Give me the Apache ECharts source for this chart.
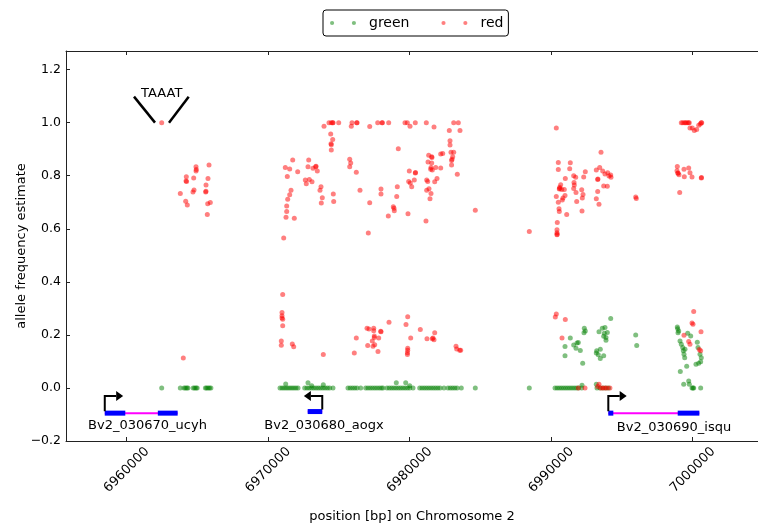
<!DOCTYPE html>
<html>
<head>
<meta charset="utf-8">
<script src="https://cdn.jsdelivr.net/npm/echarts@6/dist/echarts.min.js"></script>
<style>
html,body{margin:0;padding:0;background:#fff;}
#chart{width:758px;height:526px;}
</style>
</head>
<body>
<div id="chart"></div>
<script>
// ---------- data ----------
const xTicks = [6960000, 6970000, 6980000, 6990000, 7000000];
const yTicks = [-0.2, 0.0, 0.2, 0.4, 0.6, 0.8, 1.0, 1.2];

// green: positions whose estimate is 0
const greenZeroX = [
  6962473, 6963788, 6964050, 6964150, 6964250, 6964330, 6964700, 6964800, 6964900, 6964980,
  6965560, 6965650, 6965750, 6965850, 6965950,
  6970834, 6970980, 6971120, 6971260, 6971400, 6971540, 6971680, 6971820, 6971960, 6972106,
  6972579, 6972740, 6972900, 6973060, 6973220, 6973380, 6973540, 6973700, 6973860, 6974020,
  6974180, 6974340, 6974579, 6975638, 6975800, 6975960, 6976120, 6976280, 6976536, 6976890,
  6977050, 6977210, 6977370, 6977530, 6977690, 6977850, 6978000, 6978113, 6978395, 6978560,
  6978720, 6978880, 6979040, 6979200, 6979360, 6979520, 6979680, 6979840, 6980000, 6980233,
  6980706, 6980870, 6981030, 6981190, 6981350, 6981510, 6981670, 6981830, 6981990, 6982150,
  6982423, 6982706, 6982870, 6983030, 6983190, 6983350, 6983646, 6984636,
  6988452, 6990268, 6990420, 6990570, 6990720, 6990870, 6991020, 6991170, 6991320, 6991470,
  6991620, 6991770, 6991920, 6992155, 6993236, 6993450, 6993650, 6993850, 6994050,
  6999950, 7000020, 7000070, 7000563
];
// green: other points [position, estimate]
const greenPts = [
  [6971236,0.015],[6972812,0.02],[6973074,0.008],[6973894,0.012],[6979052,0.02],[6979717,0.02],[6980000,0.008],
  [6992176,0.01],[6993187,0.014],
  [6994204,0.262],[6992339,0.225],[6992409,0.215],[6992317,0.208],[6993377,0.212],[6993610,0.225],
  [6993801,0.228],[6993964,0.209],[6993752,0.206],[6993872,0.19],[6993872,0.18],[6993709,0.195],
  [6991349,0.188],[6991915,0.171],[6991823,0.169],[6991589,0.162],[6991752,0.15],[6992056,0.141],
  [6990975,0.156],[6990975,0.121],[6993214,0.14],[6993187,0.132],[6993328,0.125],[6993469,0.146],
  [6993709,0.121],[6993469,0.111],[6992225,0.093],[6995971,0.2],[6996042,0.16],
  [6998911,0.23],[6998939,0.223],[6999010,0.215],[6998960,0.208],[6999646,0.206],[6999858,0.196],
  [6999102,0.177],[6999194,0.165],[6999292,0.152],[6999336,0.14],[6999384,0.127],[6999434,0.114],
  [6999575,0.082],[6999123,0.062],[7000324,0.172],[7000374,0.152],[7000515,0.127],[7000607,0.114],
  [7000563,0.099],[7000423,0.093],[7000232,0.089],[6999455,0.146],
  [6999363,0.014],[6999716,0.026],[6999759,0.014]
];

// red points [position, estimate], cluster by cluster
const redCluster1 = [
  [6962473,1.0],[6965816,0.840],[6964897,0.834],[6964919,0.823],[6964900,0.818],[6964212,0.796],
  [6964735,0.791],[6965745,0.789],[6964191,0.780],[6964230,0.778],[6965604,0.765],[6964756,0.746],
  [6964685,0.739],[6965583,0.739],[6965600,0.741],[6963788,0.733],[6964170,0.704],[6964283,0.690],
  [6965724,0.694],[6965908,0.699],[6965696,0.654],[6964000,0.113]
];
const redCluster2 = [
  [6973943,0.986],[6974296,1.0],[6974459,1.0],[6974558,1.0],[6974580,1.0],[6974982,1.0],[6975922,1.0],
  [6975872,0.986],[6976254,1.0],[6976280,1.0],[6977173,0.985],[6974417,0.957],[6974558,0.936],
  [6974438,0.92],[6974460,0.917],[6974459,0.897],[6971731,0.859],[6972862,0.859],[6975759,0.862],
  [6975830,0.848],[6975759,0.834],[6971208,0.831],[6971519,0.825],[6972084,0.815],[6972812,0.834],
  [6973166,0.828],[6973356,0.834],[6973380,0.836],[6973470,0.818],[6976226,0.813],[6971350,0.797],
  [6972622,0.784],[6972904,0.786],[6973095,0.777],[6972692,0.77],[6973731,0.758],[6973660,0.745],
  [6971611,0.745],[6971519,0.728],[6971378,0.711],[6974600,0.731],[6976487,0.745],[6973823,0.717],
  [6973752,0.697],[6974628,0.703],[6977173,0.698],[6971307,0.686],[6971307,0.665],[6971258,0.643],
  [6971844,0.640],[6971095,0.565],[6977074,0.584]
];
const redCluster3 = [
  [6977738,1.0],[6978042,1.0],[6978070,1.0],[6978515,1.0],[6979667,1.0],[6979830,1.0],[6980021,0.986],
  [6980395,1.0],[6981173,1.0],[6981717,0.984],[6983109,1.0],[6983435,1.0],[6982798,0.97],[6983554,0.97],
  [6982848,0.932],[6982848,0.916],[6979194,0.902],[6982918,0.888],[6983109,0.888],[6982332,0.884],
  [6982190,0.882],[6981342,0.877],[6981554,0.871],[6981570,0.869],[6983038,0.871],[6982989,0.862],
  [6982960,0.857],[6981293,0.852],[6981554,0.848],[6982960,0.84],[6981505,0.831],[6981483,0.824],
  [6981597,0.821],[6981837,0.831],[6982190,0.829],[6979971,0.818],[6980395,0.81],[6980410,0.812],
  [6983363,0.805],[6980325,0.784],[6979929,0.778],[6980042,0.772],[6980141,0.758],[6981201,0.784],
  [6981272,0.778],[6981766,0.777],[6981929,0.789],[6979123,0.758],[6977971,0.75],[6977971,0.731],
  [6981363,0.751],[6981201,0.745],[6981505,0.733],[6979081,0.722],[6981434,0.713],[6978841,0.683],
  [6978890,0.677],[6978911,0.668],[6984636,0.67],[6978487,0.648],[6979879,0.657],[6981151,0.629]
];
const redCluster4 = [
  [6971024,0.352],[6970975,0.284],[6970975,0.272],[6970975,0.264],[6971024,0.259],[6971024,0.234],
  [6970925,0.177],[6970925,0.161],[6971703,0.166],[6971802,0.155],[6973894,0.126],[6976226,0.188],
  [6976084,0.132],[6976982,0.225],[6977123,0.222],[6977455,0.225],[6977455,0.216],[6977971,0.212],
  [6977950,0.214],[6977498,0.196],[6977498,0.19],[6977809,0.188],[6977356,0.177],[6977031,0.16],
  [6977406,0.157],[6977526,0.163],[6977759,0.137],[6978537,0.248],[6979858,0.268],[6979738,0.239],
  [6980070,0.188],[6979858,0.15],[6979858,0.142],[6979838,0.133],[6979838,0.126],[6980749,0.22],
  [6981222,0.185],[6981597,0.185],[6981646,0.188],[6981717,0.182],[6981766,0.208],[6983272,0.157],
  [6983321,0.147],[6983533,0.142],[6983603,0.142]
];
const redCluster5 = [
  [6990359,0.98],[6990501,0.85],[6991349,0.849],[6990501,0.823],[6991306,0.826],[6993519,0.888],
  [6993427,0.831],[6993187,0.821],[6993638,0.818],[6993801,0.806],[6993991,0.811],[6994084,0.799],
  [6994225,0.794],[6994204,0.803],[6992409,0.815],[6992296,0.795],[6991589,0.8],[6991730,0.794],
  [6990996,0.789],[6990670,0.766],[6990600,0.756],[6990572,0.75],[6990600,0.752],[6990742,0.748],
  [6990925,0.748],[6991611,0.774],[6991632,0.765],[6991589,0.752],[6991752,0.737],[6993285,0.786],
  [6993300,0.788],[6993709,0.761],[6993964,0.76],[6993285,0.74],[6993187,0.713],[6993377,0.692],
  [6992155,0.747],[6992247,0.729],[6992197,0.716],[6991801,0.703],[6992176,0.667],[6990975,0.725],
  [6990833,0.716],[6990784,0.708],[6990359,0.722],[6990501,0.7],[6990551,0.675],[6990572,0.665],
  [6991094,0.654],[6990430,0.624],[6990409,0.596],[6990409,0.585],[6990409,0.577],[6990420,0.579],
  [6988452,0.59],[6995971,0.72],[6996013,0.714],
  [6990359,0.279],[6990289,0.267],[6990996,0.258],[6990763,0.188],
  [6991915,0.0],[6992388,0.0],[6993285,0.005],[6993377,0.014],[6993500,0.0],[6993650,0.0],
  [6993800,0.0],[6993950,0.0],[6994150,0.0]
];
const redCluster6 = [
  [6999194,1.0],[6999300,1.0],[6999420,1.0],[6999500,1.0],[6999600,1.0],[6999700,1.0],[6999759,1.0],
  [6999808,0.98],[6999971,0.98],[7000112,0.97],[7000281,0.974],[7000423,0.99],[7000635,1.0],
  [7000536,0.995],[7000600,1.0],[6998911,0.835],[6998890,0.819],[6998960,0.809],[6999031,0.804],
  [6998960,0.81],[6999384,0.824],[6999716,0.829],[6999808,0.811],[6999950,0.795],[6999406,0.796],
  [7000607,0.791],[7000620,0.793],[6999080,0.737],
  [7000070,0.288],[6999950,0.245],[7000020,0.24],[7000586,0.212],[6999384,0.199],[6999716,0.175],
  [6999808,0.165],[7000464,0.145],[7000563,0.14]
];

// gene annotation (data coordinates)
const geneNames = ['Bv2_030670_ucyh', 'Bv2_030680_aogx', 'Bv2_030690_isqu'];
const geneStrand = [1, -1, 1];
const geneExons = [
  [[6958450, 6959900], [6962200, 6963600]],
  [[6972790, 6973820]],
  [[6994035, 6994390], [6998940, 7000470]]
];
const geneLevel = [-0.095, -0.089, -0.095];
const geneLabelX = [6961470, 6973944, 6998678];
const geneLabelY = [-0.143, -0.143, -0.15];
const arrowLevel = -0.030;
const arrowLength = 1300;

// motif annotation
const motifName = 'TAAAT';
const motifX = 6962473;
const motifY = 1.0;
const motifLines = [[[6960516, 1.098], [6962000, 1.0]], [[6962989, 1.0], [6964382, 1.098]]];
const motifLabelY = 1.109;

// ---------- chart ----------
const FONT = 'DejaVu Sans';
const xMin = 6955710, xMax = 7004614;
const yMin = -0.2, yMax = 1.27;

const greenData = greenZeroX.map(x => [x, 0]).concat(greenPts);
const redData = [].concat(redCluster1, redCluster2, redCluster3, redCluster4, redCluster5, redCluster6);

function renderGene(params, api) {
  const i = params.dataIndex;
  const ex = geneExons[i];
  const lvl = geneLevel[i];
  const start = ex[0][0], end = ex[ex.length - 1][1];
  const children = [];
  const p0 = api.coord([start, lvl]), p1 = api.coord([end, lvl]);
  children.push({type: 'line', shape: {x1: p0[0], y1: p0[1], x2: p1[0], y2: p1[1]},
    style: {stroke: '#ff00ff', lineWidth: 2}});
  ex.forEach(e => {
    const a = api.coord([e[0], lvl]), b = api.coord([e[1], lvl]);
    children.push({type: 'rect', shape: {x: a[0], y: a[1] - 2.5, width: b[0] - a[0], height: 5},
      style: {fill: '#0000ff'}});
  });
  const dir = geneStrand[i];
  const sx = dir > 0 ? start : end;
  const base = api.coord([sx, lvl]);
  const corner = api.coord([sx, arrowLevel]);
  const tip = api.coord([sx + dir * arrowLength, arrowLevel]);
  const headLen = 7, headHalf = 5;
  children.push({type: 'polyline', shape: {points: [[base[0], base[1] - 2], [corner[0], corner[1]], [tip[0] - dir * headLen, tip[1]]]},
    style: {stroke: '#000', lineWidth: 2, fill: null}});
  children.push({type: 'polygon', shape: {points: [[tip[0], tip[1]], [tip[0] - dir * headLen, tip[1] - headHalf], [tip[0] - dir * headLen, tip[1] + headHalf]]},
    style: {fill: '#000'}});
  const lp = api.coord([geneLabelX[i], geneLabelY[i]]);
  children.push({type: 'text', x: lp[0], y: lp[1],
    style: {text: geneNames[i], align: 'center', verticalAlign: 'middle', font: '13px "DejaVu Sans"', fill: '#000'}});
  return {type: 'group', children: children};
}

function renderMotif(params, api) {
  const children = motifLines.map(l => {
    const a = api.coord(l[0]), b = api.coord(l[1]);
    return {type: 'line', shape: {x1: a[0], y1: a[1], x2: b[0], y2: b[1]}, style: {stroke: '#000', lineWidth: 2.5}};
  });
  const t = api.coord([motifX, motifLabelY]);
  children.push({type: 'text', x: t[0], y: t[1],
    style: {text: motifName, align: 'center', verticalAlign: 'middle', font: '13px "DejaVu Sans"', fill: '#000'}});
  return {type: 'group', children: children};
}

const chart = echarts.init(document.getElementById('chart'), null, {renderer: 'canvas'});
chart.setOption({
  animation: false,
  backgroundColor: '#fff',
  textStyle: {fontFamily: FONT},
  grid: {left: 66, top: 51, right: 0, bottom: 85, containLabel: false, outerBoundsMode: 'none'},
  legend: {
    data: ['green', 'red'],
    left: 323, top: 10,
    itemWidth: 26, itemHeight: 14, itemGap: 32,
    icon: 'path://M0,2a2,2 0 1,0 4,0a2,2 0 1,0 -4,0M21,2a2,2 0 1,0 4,0a2,2 0 1,0 -4,0',
    textStyle: {fontFamily: FONT, fontSize: 14, color: '#000', padding: [0, 0, 0, 8]},
    borderColor: '#000', borderWidth: 1, borderRadius: 3,
    padding: [6, 5, 6, 7]
  },
  xAxis: [{
    type: 'value', min: xMin, max: xMax, position: 'bottom',
    axisLine: {show: true, onZero: false, lineStyle: {color: '#222', width: 1}},
    splitLine: {show: false},
    axisTick: {show: true, inside: true, length: 4, customValues: xTicks, lineStyle: {color: '#222'}},
    axisLabel: {customValues: xTicks, rotate: 45, align: 'center', verticalAlign: 'middle', margin: 29,
      formatter: v => String(v), fontFamily: FONT, fontSize: 13, color: '#000'},
    name: 'position [bp] on Chromosome 2', nameLocation: 'middle', nameGap: 69, nameMoveOverlap: false,
    nameTextStyle: {fontFamily: FONT, fontSize: 13, color: '#000'}
  }, {
    type: 'value', min: xMin, max: xMax, position: 'top',
    axisLine: {show: true, onZero: false, lineStyle: {color: '#222', width: 1}},
    splitLine: {show: false},
    axisTick: {show: true, inside: true, length: 4, customValues: xTicks, lineStyle: {color: '#222'}},
    axisLabel: {show: false}
  }],
  yAxis: [{
    type: 'value', min: yMin, max: yMax,
    axisLine: {show: true, onZero: false, lineStyle: {color: '#222', width: 1}},
    splitLine: {show: false},
    axisTick: {show: true, inside: true, length: 4, customValues: yTicks, lineStyle: {color: '#222'}},
    axisLabel: {customValues: yTicks, margin: 5, fontFamily: FONT, fontSize: 12.5, color: '#000',
      formatter: v => v.toFixed(1).replace('-', '\u2212')},
    name: 'allele frequency estimate', nameLocation: 'middle', nameGap: 38, nameMoveOverlap: false,
    nameTextStyle: {fontFamily: FONT, fontSize: 13, color: '#000'}
  }],
  series: [
    {name: 'green', type: 'scatter', data: greenData, symbol: 'circle', symbolSize: 5,
      itemStyle: {color: '#008000', opacity: 0.5}, z: 3},
    {name: 'red', type: 'scatter', data: redData, symbol: 'circle', symbolSize: 5,
      itemStyle: {color: '#ff0000', opacity: 0.5}, z: 4},
    {name: 'genes', type: 'custom', renderItem: renderGene, clip: false, z: 5,
      data: geneNames.map((n, i) => [geneLabelX[i], geneLevel[i]])},
    {name: 'motif', type: 'custom', renderItem: renderMotif, clip: false, z: 5,
      data: [[motifX, motifY]]}
  ]
});
</script>
</body>
</html>
